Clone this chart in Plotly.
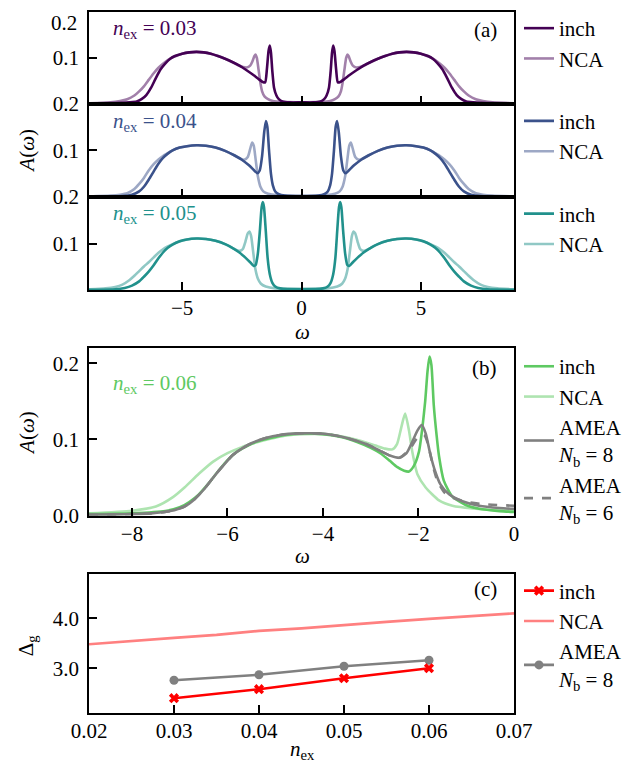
import plotly.graph_objects as go

# ---------------- data ----------------
# panel (a): n_ex = 0.03
a03_inch = [(-8.9, 0.001), (-7.5, 0.002), (-7.2, 0.003), (-6.9, 0.005), (-6.7, 0.010), (-6.5, 0.019),
            (-6.3, 0.035), (-6.1, 0.056), (-5.9, 0.075), (-5.7, 0.088), (-5.5, 0.098), (-5.3, 0.104),
            (-5.0, 0.109), (-4.7, 0.112), (-4.4, 0.113), (-4.1, 0.112), (-3.8, 0.109), (-3.5, 0.104),
            (-3.2, 0.098), (-2.9, 0.091), (-2.6, 0.083), (-2.3, 0.073), (-2.0, 0.062), (-1.8, 0.054),
            (-1.6, 0.047), (-1.52, 0.047), (-1.45, 0.075), (-1.38, 0.115), (-1.33, 0.127), (-1.28, 0.112),
            (-1.22, 0.070), (-1.15, 0.035), (-1.05, 0.018), (-0.95, 0.010), (-0.8, 0.005), (-0.5, 0.003),
            (0.0, 0.003),
            (0.5, 0.003), (0.8, 0.005), (0.95, 0.010), (1.05, 0.018), (1.15, 0.035), (1.22, 0.070),
            (1.28, 0.112), (1.33, 0.127), (1.38, 0.115), (1.45, 0.075), (1.52, 0.047), (1.6, 0.047),
            (1.8, 0.054), (2.0, 0.062), (2.3, 0.073), (2.6, 0.083), (2.9, 0.091), (3.2, 0.098),
            (3.5, 0.104), (3.8, 0.109), (4.1, 0.112), (4.4, 0.113), (4.7, 0.112), (5.0, 0.109),
            (5.3, 0.104), (5.5, 0.098), (5.7, 0.088), (5.9, 0.075), (6.1, 0.056), (6.3, 0.035),
            (6.5, 0.019), (6.7, 0.010), (6.9, 0.005), (7.2, 0.003), (7.5, 0.002), (8.9, 0.001)]
a03_nca = [(-8.9, 0.001), (-8.0, 0.003), (-7.6, 0.006), (-7.3, 0.010), (-7.0, 0.018), (-6.8, 0.027),
           (-6.6, 0.038), (-6.4, 0.052), (-6.2, 0.066), (-6.0, 0.078), (-5.8, 0.087), (-5.6, 0.095),
           (-5.4, 0.101), (-5.2, 0.105), (-5.0, 0.109), (-4.7, 0.112), (-4.4, 0.113), (-4.1, 0.112),
           (-3.8, 0.109), (-3.5, 0.104), (-3.2, 0.098), (-2.9, 0.091), (-2.65, 0.084), (-2.45, 0.080),
           (-2.3, 0.079), (-2.15, 0.083), (-2.05, 0.093), (-1.97, 0.104), (-1.92, 0.107), (-1.87, 0.100),
           (-1.8, 0.075), (-1.72, 0.045), (-1.65, 0.027), (-1.55, 0.016), (-1.4, 0.010), (-1.2, 0.006),
           (-0.8, 0.004), (0.0, 0.003),
           (0.8, 0.004), (1.2, 0.006), (1.4, 0.010), (1.55, 0.016), (1.65, 0.027), (1.72, 0.045),
           (1.8, 0.075), (1.87, 0.100), (1.92, 0.107), (1.97, 0.104), (2.05, 0.093), (2.15, 0.083),
           (2.3, 0.079), (2.45, 0.080), (2.65, 0.084), (2.9, 0.091), (3.2, 0.098), (3.5, 0.104),
           (3.8, 0.109), (4.1, 0.112), (4.4, 0.113), (4.7, 0.112), (5.0, 0.109), (5.2, 0.105),
           (5.4, 0.101), (5.6, 0.095), (5.8, 0.087), (6.0, 0.078), (6.2, 0.066), (6.4, 0.052),
           (6.6, 0.038), (6.8, 0.027), (7.0, 0.018), (7.3, 0.010), (7.6, 0.006), (8.0, 0.003), (8.9, 0.001)]

# panel (a): n_ex = 0.04
a04_inch = [(-8.9, 0.001), (-7.5, 0.002), (-7.1, 0.005), (-6.8, 0.012), (-6.6, 0.022), (-6.4, 0.037),
            (-6.2, 0.054), (-6.0, 0.071), (-5.8, 0.084), (-5.6, 0.093), (-5.4, 0.100), (-5.1, 0.106),
            (-4.8, 0.109), (-4.4, 0.111), (-4.0, 0.110), (-3.6, 0.106), (-3.2, 0.099), (-2.8, 0.089),
            (-2.5, 0.080), (-2.2, 0.068), (-2.0, 0.058), (-1.85, 0.051), (-1.75, 0.057), (-1.65, 0.088),
            (-1.56, 0.140), (-1.49, 0.163), (-1.43, 0.150), (-1.36, 0.100), (-1.28, 0.050), (-1.2, 0.025),
            (-1.1, 0.012), (-0.95, 0.006), (-0.7, 0.003), (0.0, 0.002),
            (0.7, 0.003), (0.95, 0.006), (1.1, 0.012), (1.2, 0.025), (1.28, 0.050), (1.36, 0.100),
            (1.43, 0.150), (1.49, 0.163), (1.56, 0.140), (1.65, 0.088), (1.75, 0.057), (1.85, 0.051),
            (2.0, 0.058), (2.2, 0.068), (2.5, 0.080), (2.8, 0.089), (3.2, 0.099), (3.6, 0.106),
            (4.0, 0.110), (4.4, 0.111), (4.8, 0.109), (5.1, 0.106), (5.4, 0.100), (5.6, 0.093),
            (5.8, 0.084), (6.0, 0.071), (6.2, 0.054), (6.4, 0.037), (6.6, 0.022), (6.8, 0.012),
            (7.1, 0.005), (7.5, 0.002), (8.9, 0.001)]
a04_nca = [(-8.9, 0.001), (-8.0, 0.003), (-7.6, 0.005), (-7.3, 0.008), (-7.0, 0.017), (-6.8, 0.028),
           (-6.6, 0.041), (-6.4, 0.057), (-6.2, 0.070), (-6.0, 0.080), (-5.8, 0.088), (-5.6, 0.094),
           (-5.4, 0.100), (-5.1, 0.106), (-4.8, 0.109), (-4.4, 0.111), (-4.0, 0.110), (-3.6, 0.106),
           (-3.2, 0.099), (-2.8, 0.089), (-2.55, 0.082), (-2.4, 0.080), (-2.25, 0.086), (-2.15, 0.103),
           (-2.07, 0.117), (-2.0, 0.110), (-1.92, 0.080), (-1.83, 0.045), (-1.72, 0.022), (-1.6, 0.012),
           (-1.4, 0.007), (-1.0, 0.004), (0.0, 0.002),
           (1.0, 0.004), (1.4, 0.007), (1.6, 0.012), (1.72, 0.022), (1.83, 0.045), (1.92, 0.080),
           (2.0, 0.110), (2.07, 0.117), (2.15, 0.103), (2.25, 0.086), (2.4, 0.080), (2.55, 0.082),
           (2.8, 0.089), (3.2, 0.099), (3.6, 0.106), (4.0, 0.110), (4.4, 0.111), (4.8, 0.109),
           (5.1, 0.106), (5.4, 0.100), (5.6, 0.094), (5.8, 0.088), (6.0, 0.080), (6.2, 0.070),
           (6.4, 0.057), (6.6, 0.041), (6.8, 0.028), (7.0, 0.017), (7.3, 0.008), (7.6, 0.005),
           (8.0, 0.003), (8.9, 0.001)]

# panel (a): n_ex = 0.05
a05_inch = [(-8.9, 0.001), (-7.8, 0.002), (-7.4, 0.005), (-7.1, 0.010), (-6.8, 0.019), (-6.6, 0.029),
            (-6.4, 0.040), (-6.2, 0.053), (-6.0, 0.068), (-5.8, 0.081), (-5.6, 0.091), (-5.4, 0.098),
            (-5.1, 0.105), (-4.8, 0.109), (-4.4, 0.111), (-4.0, 0.110), (-3.6, 0.106), (-3.2, 0.099),
            (-2.9, 0.091), (-2.6, 0.081), (-2.35, 0.070), (-2.15, 0.060), (-2.0, 0.052), (-1.92, 0.054),
            (-1.83, 0.078), (-1.74, 0.130), (-1.67, 0.178), (-1.62, 0.189), (-1.57, 0.178), (-1.5, 0.130),
            (-1.42, 0.070), (-1.33, 0.035), (-1.22, 0.016), (-1.1, 0.008), (-0.9, 0.004), (0.0, 0.002),
            (0.9, 0.004), (1.1, 0.008), (1.22, 0.016), (1.33, 0.035), (1.42, 0.070), (1.5, 0.130),
            (1.57, 0.178), (1.62, 0.189), (1.67, 0.178), (1.74, 0.130), (1.83, 0.078), (1.92, 0.054),
            (2.0, 0.052), (2.15, 0.060), (2.35, 0.070), (2.6, 0.081), (2.9, 0.091), (3.2, 0.099),
            (3.6, 0.106), (4.0, 0.110), (4.4, 0.111), (4.8, 0.109), (5.1, 0.105), (5.4, 0.098),
            (5.6, 0.091), (5.8, 0.081), (6.0, 0.068), (6.2, 0.053), (6.4, 0.040), (6.6, 0.029),
            (6.8, 0.019), (7.1, 0.010), (7.4, 0.005), (7.8, 0.002), (8.9, 0.001)]
a05_nca = [(-8.9, 0.002), (-8.2, 0.004), (-7.8, 0.007), (-7.5, 0.012), (-7.2, 0.022), (-7.0, 0.031),
           (-6.8, 0.041), (-6.6, 0.051), (-6.4, 0.060), (-6.2, 0.070), (-6.0, 0.080), (-5.8, 0.088),
           (-5.6, 0.094), (-5.4, 0.099), (-5.1, 0.105), (-4.8, 0.109), (-4.4, 0.111), (-4.0, 0.110),
           (-3.6, 0.106), (-3.2, 0.099), (-2.9, 0.091), (-2.7, 0.086), (-2.55, 0.085), (-2.45, 0.089),
           (-2.35, 0.104), (-2.25, 0.122), (-2.18, 0.126), (-2.11, 0.116), (-2.03, 0.085), (-1.93, 0.045),
           (-1.82, 0.024), (-1.7, 0.014), (-1.5, 0.008), (-1.1, 0.004), (0.0, 0.003),
           (1.1, 0.004), (1.5, 0.008), (1.7, 0.014), (1.82, 0.024), (1.93, 0.045), (2.03, 0.085),
           (2.11, 0.116), (2.18, 0.126), (2.25, 0.122), (2.35, 0.104), (2.45, 0.089), (2.55, 0.085),
           (2.7, 0.086), (2.9, 0.091), (3.2, 0.099), (3.6, 0.106), (4.0, 0.110), (4.4, 0.111),
           (4.8, 0.109), (5.1, 0.105), (5.4, 0.099), (5.6, 0.094), (5.8, 0.088), (6.0, 0.080),
           (6.2, 0.070), (6.4, 0.060), (6.6, 0.051), (6.8, 0.041), (7.0, 0.031), (7.2, 0.022),
           (7.5, 0.012), (7.8, 0.007), (8.2, 0.004), (8.9, 0.002)]

# panel (b): n_ex = 0.06
b_inch = [(-8.9, 0.002), (-8.0, 0.003), (-7.3, 0.006), (-7.0, 0.011), (-6.8, 0.018), (-6.6, 0.028),
          (-6.4, 0.042), (-6.2, 0.058), (-6.0, 0.073), (-5.8, 0.084), (-5.6, 0.091), (-5.4, 0.097),
          (-5.1, 0.102), (-4.8, 0.106), (-4.4, 0.108), (-4.0, 0.107), (-3.6, 0.103), (-3.3, 0.097),
          (-3.0, 0.089), (-2.8, 0.082), (-2.6, 0.072), (-2.45, 0.064), (-2.3, 0.059), (-2.2, 0.058),
          (-2.1, 0.065), (-1.99, 0.084), (-1.92, 0.115), (-1.86, 0.150), (-1.81, 0.190), (-1.77, 0.209),
          (-1.73, 0.198), (-1.68, 0.145), (-1.62, 0.105), (-1.57, 0.078), (-1.47, 0.046), (-1.29, 0.025),
          (-1.01, 0.014), (-0.73, 0.009), (-0.3, 0.006), (0.0, 0.005)]
b_nca = [(-8.9, 0.003), (-8.0, 0.0065), (-7.5, 0.012), (-7.15, 0.024), (-6.9, 0.037), (-6.6, 0.055),
         (-6.3, 0.071), (-6.0, 0.082), (-5.7, 0.090), (-5.4, 0.096), (-5.1, 0.101), (-4.8, 0.105),
         (-4.4, 0.107), (-4.0, 0.107), (-3.6, 0.104), (-3.2, 0.098), (-2.9, 0.092), (-2.7, 0.088),
         (-2.55, 0.087), (-2.45, 0.094), (-2.36, 0.116), (-2.28, 0.134), (-2.2, 0.112), (-2.13, 0.084),
         (-2.02, 0.054), (-1.85, 0.037), (-1.57, 0.020), (-1.29, 0.013), (-0.8, 0.009), (-0.3, 0.007),
         (0.0, 0.007)]
b_amea8 = [(-8.9, 0.001), (-7.6, 0.003), (-7.2, 0.006), (-6.9, 0.012), (-6.7, 0.021), (-6.5, 0.034),
           (-6.3, 0.050), (-6.1, 0.065), (-5.9, 0.079), (-5.7, 0.088), (-5.5, 0.095), (-5.2, 0.102),
           (-4.9, 0.106), (-4.5, 0.108), (-4.1, 0.108), (-3.8, 0.106), (-3.5, 0.102), (-3.1, 0.094),
           (-2.8, 0.085), (-2.6, 0.079), (-2.4, 0.076), (-2.25, 0.082), (-2.13, 0.097), (-2.02, 0.112),
           (-1.93, 0.119), (-1.85, 0.108), (-1.75, 0.080), (-1.65, 0.058), (-1.54, 0.041), (-1.36, 0.028),
           (-1.08, 0.019), (-0.73, 0.013), (-0.3, 0.010), (0.0, 0.009)]
b_amea6 = [(-8.9, 0.001), (-7.6, 0.003), (-7.2, 0.006), (-6.9, 0.012), (-6.7, 0.021), (-6.5, 0.034),
           (-6.3, 0.050), (-6.1, 0.065), (-5.9, 0.079), (-5.7, 0.088), (-5.5, 0.095), (-5.2, 0.102),
           (-4.9, 0.106), (-4.5, 0.108), (-4.1, 0.108), (-3.8, 0.106), (-3.5, 0.102), (-3.1, 0.094),
           (-2.8, 0.085), (-2.6, 0.079), (-2.4, 0.076), (-2.2, 0.086), (-2.05, 0.100), (-1.95, 0.106),
           (-1.88, 0.106), (-1.8, 0.094), (-1.7, 0.066), (-1.6, 0.045), (-1.45, 0.030), (-1.3, 0.024),
           (-1.0, 0.018), (-0.6, 0.015), (0.0, 0.013)]

# panel (c): gap vs n_ex
n_points = [0.03, 0.04, 0.05, 0.06]
gap_inch = [2.40, 2.58, 2.80, 3.00]
gap_amea8 = [2.76, 2.87, 3.04, 3.16]
n_nca = [0.02, 0.025, 0.03, 0.035, 0.037, 0.04, 0.045, 0.05, 0.055, 0.06, 0.065, 0.07]
gap_nca = [3.48, 3.55, 3.61, 3.67, 3.70, 3.75, 3.80, 3.87, 3.93, 3.99, 4.04, 4.10]

# ---------------- styling ----------------
C03, C03L = "#440154", "#a280aa"
C04, C04L = "#3b528b", "#9da8c5"
C05, C05L = "#21918c", "#90c8c5"
C06, C06L = "#5ec962", "#aee4b0"
GRAY = "#808080"
RED, REDL = "#ff0000", "#ff8080"
FONT = "Liberation Serif, DejaVu Serif, Times New Roman, serif"
FS = 21
LW = 2.6

# the page body has an 8 px margin: the figure is sized to fit the window after it
OFF = 8
W, H = 644 - OFF, 766 - OFF
def px(x): return (x - OFF) / W
def py(y): return 1 - (y - OFF) / H

XD = [px(89), px(514)]

fig = go.Figure()

def unz(pairs):
    return [p[0] for p in pairs], [p[1] for p in pairs]

def add_line(pairs, color, name, xa, ya, leg, rank, dash="solid"):
    x, y = unz(pairs)
    fig.add_trace(go.Scatter(x=x, y=y, mode="lines", name=name, xaxis=xa, yaxis=ya,
                             legend=leg, legendrank=rank,
                             line=dict(color=color, width=LW, shape="spline", smoothing=0.6, dash=dash)))

# (a)
add_line(a03_nca, C03L, "NCA", "x", "y", "legend", 2)
add_line(a03_inch, C03, "inch", "x", "y", "legend", 1)
add_line(a04_nca, C04L, "NCA", "x2", "y2", "legend2", 2)
add_line(a04_inch, C04, "inch", "x2", "y2", "legend2", 1)
add_line(a05_nca, C05L, "NCA", "x3", "y3", "legend3", 2)
add_line(a05_inch, C05, "inch", "x3", "y3", "legend3", 1)
# (b)
add_line(b_nca, C06L, "NCA", "x4", "y4", "legend4", 2)
add_line(b_inch, C06, "inch", "x4", "y4", "legend4", 1)
add_line(b_amea8, GRAY, "AMEA<br><i>N</i><sub>b</sub> = 8", "x4", "y4", "legend4", 3)
add_line(b_amea6, GRAY, "AMEA<br><i>N</i><sub>b</sub> = 6", "x4", "y4", "legend4", 4, dash="dash")
# (c)
fig.add_trace(go.Scatter(x=n_nca, y=gap_nca, mode="lines", name="NCA", xaxis="x5", yaxis="y5",
                         legend="legend5", legendrank=2, line=dict(color=REDL, width=LW)))
fig.add_trace(go.Scatter(x=n_points, y=gap_amea8, mode="lines+markers", name="AMEA<br><i>N</i><sub>b</sub> = 8",
                         xaxis="x5", yaxis="y5", legend="legend5", legendrank=3,
                         line=dict(color=GRAY, width=LW), marker=dict(color=GRAY, size=9, symbol="circle")))
fig.add_trace(go.Scatter(x=n_points, y=gap_inch, mode="lines+markers", name="inch", xaxis="x5", yaxis="y5",
                         legend="legend5", legendrank=1,
                         line=dict(color=RED, width=LW), marker=dict(color=RED, size=9, symbol="x")))

axis_common = dict(showline=True, linecolor="black", linewidth=1.8, mirror=True, ticks="inside",
                   ticklen=8, tickwidth=1.8, tickcolor="black", showgrid=False, zeroline=False,
                   automargin=False, ticklabeloverflow="allow",
                   tickfont=dict(family=FONT, size=FS, color="black"))
xcommon = dict(axis_common, ticklabelstandoff=-2)
ycommon = dict(axis_common, ticklabelstandoff=4)

a_dom = [(py(102), py(10)), (py(195.5), py(102)), (py(289), py(195.5))]
for i, (d0, d1) in enumerate(a_dom, start=1):
    sx = "" if i == 1 else str(i)
    top_lbl = "" if i == 1 else "0.2"   # topmost label is drawn as an annotation (kept inside the page)
    fig.update_layout(**{
        "xaxis" + sx: dict(xcommon, domain=XD, anchor="y" + sx, range=[-8.9, 8.9],
                           tickvals=[-5, 0, 5], showticklabels=(i == 3)),
        "yaxis" + sx: dict(ycommon, domain=[d0, d1], anchor="x" + sx, range=[0, 0.2],
                           tickvals=[0.1, 0.2], ticktext=["0.1", top_lbl]),
    })

fig.update_layout(
    xaxis4=dict(xcommon, domain=XD, anchor="y4", range=[-8.9, 0], tickvals=[-8, -6, -4, -2, 0]),
    yaxis4=dict(ycommon, domain=[py(515), py(347)], anchor="x4", range=[0, 0.22],
                tickvals=[0, 0.1, 0.2], ticktext=["0.0", "0.1", "0.2"]),
    xaxis5=dict(xcommon, domain=XD, anchor="y5", range=[0.02, 0.07],
                tickvals=[0.02, 0.03, 0.04, 0.05, 0.06, 0.07],
                ticktext=["0.02", "0.03", "0.04", "0.05", "0.06", "0.07"]),
    yaxis5=dict(ycommon, domain=[py(713), py(573)], anchor="x5", range=[2.1, 4.9],
                tickvals=[3, 4], ticktext=["3.0", "4.0"]),
)

leg_common = dict(x=px(519), xanchor="left", yanchor="top", bgcolor="rgba(0,0,0,0)",
                  font=dict(family=FONT, size=FS, color="black"), itemwidth=30,
                  itemclick=False, itemdoubleclick=False)
fig.update_layout(
    legend=dict(leg_common, y=py(6)),
    legend2=dict(leg_common, y=py(99)),
    legend3=dict(leg_common, y=py(192)),
    legend4=dict(leg_common, y=py(345)),
    legend5=dict(leg_common, y=py(570)),
)

ann = []
def text(x, y, s, color="black", xanchor="center", angle=0, size=FS):
    ann.append(dict(x=px(x), y=py(y), xref="paper", yref="paper", text=s, showarrow=False,
                    xanchor=xanchor, yanchor="middle", textangle=angle,
                    font=dict(family=FONT, size=size, color=color)))

text(79, 21, "0.2", xanchor="right")
text(111, 27, "<i>n</i><sub>ex</sub> = 0.03", C03, "left")
text(111, 120, "<i>n</i><sub>ex</sub> = 0.04", C04, "left")
text(111, 213, "<i>n</i><sub>ex</sub> = 0.05", C05, "left")
text(111, 383, "<i>n</i><sub>ex</sub> = 0.06", C06, "left")
text(499, 28, "(a)", xanchor="right")
text(499, 367, "(b)", xanchor="right")
text(499, 589, "(c)", xanchor="right")
text(302, 331, "<i>ω</i>")
text(302, 555, "<i>ω</i>")
text(302, 750, "<i>n</i><sub>ex</sub>")
text(27, 149, "<i>A</i>(<i>ω</i>)", angle=-90)
text(27, 432, "<i>A</i>(<i>ω</i>)", angle=-90)
text(27, 645, "Δ<sub>g</sub>", angle=-90)

fig.update_layout(template="none", width=W, height=H, margin=dict(l=0, r=0, t=0, b=0),
                  paper_bgcolor="white", plot_bgcolor="white", annotations=ann,
                  font=dict(family=FONT, size=FS, color="black"))

fig.write_html("out.html")
